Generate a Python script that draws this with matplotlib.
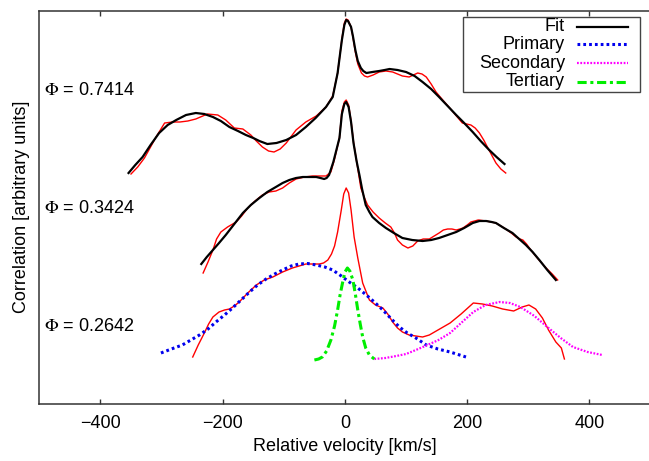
import numpy as np
import matplotlib
matplotlib.use("Agg")
import matplotlib.pyplot as plt
from matplotlib.patches import Rectangle

plt.rcParams['font.family'] = ['Liberation Sans', 'DejaVu Sans']
plt.rcParams['mathtext.fontset'] = 'stix'
plt.rcParams['font.size'] = 13

# phase labels and their vertical offsets
phases = ['0.7414', '0.3424', '0.2642']
phase_y = [314, 196, 78]

# phase 0.7414: observed correlation and fit
v_obs1 = [-350, -339, -328, -318, -309, -295, -282, -270, -257, -244, -225, -208, -195, -181, -167, -154, -145, -135,
          -125, -116, -106, -96, -80, -64, -47, -31, -20, -12, -8, -5, -1, 2, 5, 10, 13, 17, 21, 27, 32, 37, 46, 56,
          67, 78, 86, 94, 105, 112, 119, 126, 133, 141, 149, 160, 170, 181, 192, 199, 206, 213, 220, 227, 233, 240,
          247, 255, 263]
c_obs1 = [230, 237, 246, 257, 267, 281, 282, 282, 283, 285, 290, 289, 284, 276, 275, 269, 263, 257,
          253, 252, 255, 261, 274, 282, 288, 297, 308, 331, 350, 365, 381, 385, 384, 377, 367, 352, 340, 331, 328, 327,
          329, 332, 333, 332, 330, 328, 327, 329, 331, 330, 327, 320, 312, 304, 297, 289, 281, 280, 279, 276, 271, 264,
          257, 249, 241, 235, 231]
v_fit1 = [-354, -343, -331, -318, -304, -290, -276, -260, -244, -230, -216, -203, -189, -175, -162, -150, -140, -127,
          -112, -96, -80, -64, -48, -31, -20, -12, -8, -5, -1, 2, 5, 10, 13, 17, 21, 26, 30, 35, 45, 56, 65, 73, 86,
          100, 114, 127, 141, 154, 168, 182, 195, 209, 222, 236, 248, 261]
c_fit1 = [231, 239, 247, 259, 271, 279, 284, 289, 291, 290, 287, 283, 277, 273, 269, 266, 263, 260,
          261, 264, 269, 277, 286, 297, 307, 331, 350, 364, 379, 384, 383, 377, 368, 354, 343, 336, 333, 331, 332, 333,
          334, 335, 334, 332, 328, 322, 315, 307, 298, 289, 281, 272, 263, 254, 247, 240]

# phase 0.3424
v_obs2 = [-232, -224, -216, -210, -203, -192, -178, -169, -159, -147, -135, -124, -113, -102, -91, -80, -66, -53,
          -42, -31, -23, -17, -9, -5, -1, 2, 6, 10, 14, 19, 26, 32, 37, 46, 56, 66, 75, 81, 86, 94, 103, 111, 119,
          128, 138, 146, 154, 161, 168, 175, 182, 188, 193, 200, 206, 218, 231, 247, 263, 272, 280, 286, 291, 297,
          304, 316, 329, 339, 348]
c_obs2 = [131, 142, 154, 165, 172, 177, 182, 188, 196, 203, 209, 212, 213, 216, 221, 225, 227, 228,
          228, 228, 232, 245, 266, 293, 302, 304, 299, 283, 262, 243, 216, 206, 199, 192, 186, 181, 177, 171, 164, 159,
          156, 158, 163, 165, 165, 168, 171, 174, 175, 175, 174, 175, 176, 179, 182, 184, 183, 181, 175, 171, 167, 165,
          164, 160, 154, 145, 136, 130, 124]
v_fit2 = [-235, -226, -216, -206, -195, -181, -167, -154, -140, -127, -113, -102, -91, -80, -69, -58, -47, -40, -34,
          -30, -26, -19, -14, -9, -5, -1, 2, 6, 10, 14, 19, 24, 28, 34, 40, 45, 56, 67, 80, 94, 110, 127, 141, 154,
          168, 182, 195, 209, 220, 231, 240, 247, 260, 274, 285, 296, 307, 318, 331, 345]
c_fit2 = [140, 147, 154, 161, 169, 180, 191, 199, 206, 212, 217, 221, 224, 226, 227, 227, 227, 226, 225,
          226, 229, 242, 254, 266, 290, 300, 302, 297, 282, 261, 243, 228, 215, 199, 192, 187, 181, 176, 171, 166, 164,
          163, 164, 166, 169, 172, 176, 181, 183, 183, 182, 181, 176, 171, 165, 159, 152, 144, 134, 124]

# phase 0.2642: observed correlation and the three components
v_obs3 = [-249, -240, -230, -223, -216, -206, -197, -189, -181, -173, -159, -145, -132, -118, -102, -86, -75, -64,
          -53, -42, -35, -28, -22, -17, -12, -6, -2, 2, 6, 10, 15, 21, 29, 40, 50, 62, 70, 78, 86, 94, 105, 116, 127,
          138, 155, 172, 190, 210, 225, 241, 258, 276, 290, 301, 312, 323, 333, 345, 354, 359]
c_obs3 = [47, 59, 71, 80, 87, 92, 94, 95, 98, 102, 111, 119, 124, 127, 132, 136, 138, 140,
          140, 140, 141, 144, 150, 158, 172, 194, 210, 216, 211, 194, 167, 146, 121, 104, 99, 96, 90, 82, 76, 72, 69,
          68, 67, 69, 75, 81, 90, 101, 100, 98, 95, 93, 97, 99, 95, 86, 74, 62, 56, 45]
v_pri = [-301, -284, -266, -252, -238, -224, -211, -197, -184, -170, -156, -143, -129, -115, -102, -88, -75, -61,
         -47, -33, -20, -6, 7, 21, 35, 48, 62, 76, 89, 102, 116, 133, 152, 172, 198]
c_pri = [51, 55, 59, 64, 69, 75, 82, 89, 96, 104, 112, 119, 125, 130, 134, 138, 140, 140.5,
         139, 137, 134, 128, 122, 116, 109, 102, 94, 85, 77, 71, 66, 59, 55, 52, 47]
v_sec = [48, 66, 84, 100, 116, 135, 153, 172, 190, 210, 230, 253, 270, 287, 310, 333, 353, 373, 397, 421]
c_sec = [45, 46, 48, 50, 54, 59, 64, 71, 81, 92, 99, 102, 101, 97, 88, 76, 66, 57, 52, 49]
v_ter = [-50, -43, -37, -30, -23, -17, -12, -8, -4, 0, 4, 8, 13, 17, 21, 25, 29, 34, 40, 48]
c_ter = [44, 45, 47, 53, 64, 78, 94, 109, 121, 132, 136, 133, 124, 110, 94, 80, 67, 56, 49, 45]

fig = plt.figure(figsize=(6.49, 4.61), dpi=100)
ax = fig.add_axes([39.3 / 649, 57 / 461, 611.3 / 649, 393.3 / 461])

ax.plot(v_obs1, c_obs1, color='red', lw=1.0)
ax.plot(v_fit1, c_fit1, color='black', lw=1.6)
ax.plot(v_obs2, c_obs2, color='red', lw=1.0)
ax.plot(v_fit2, c_fit2, color='black', lw=1.6)
ax.plot(v_obs3, c_obs3, color='red', lw=1.0)

blue_style = dict(color='#0000ee', lw=2.2, ls=(0, (0.9, 1.0)))
mag_style = dict(color='#ff00ff', lw=1.6, ls=(0, (0.8, 0.7)))
green_style = dict(color='#00ee00', lw=2.2, ls=(0, (3, 1.2, 1, 1.2)))
ax.plot(v_pri, c_pri, **blue_style)
ax.plot(v_sec, c_sec, **mag_style)
ax.plot(v_ter, c_ter, **green_style)

for p, y in zip(phases, phase_y):
    ax.text(-492, y, r'$\Phi$ = ' + p, ha='left', va='center', fontsize=13)

ax.set_xlim(-500, 500)
ax.set_ylim(0, 393.3)
ax.set_xticks([-400, -200, 0, 200, 400])
ax.set_yticks([])
ax.tick_params(axis='x', direction='in', top=True, length=3.6, width=1, color='#333333', pad=8)
for s in ax.spines.values():
    s.set_color('#333333')
    s.set_linewidth(1.1)
ax.spines['right'].set_visible(False)
ax.set_xlabel('Relative velocity [km/s]', labelpad=4)
fig.text(21.5 / 649, 1 - 207 / 461, 'Correlation [arbitrary units]', rotation=90,
         ha='center', va='center', fontsize=13)

# gnuplot-like key, drawn by hand so the labels can be right aligned
ax.add_patch(Rectangle((0.6936, 0.7941), 0.9827 - 0.6936, 0.9848 - 0.7941, transform=ax.transAxes,
                       fill=False, ec='#444444', lw=1.0, zorder=5))
key_names = ['Fit', 'Primary', 'Secondary', 'Tertiary']
key_styles = [dict(color='black', lw=1.6), blue_style, mag_style, green_style]
key_y = [0.9593, 0.9146, 0.8663, 0.8195]
for name, st, y in zip(key_names, key_styles, key_y):
    ax.text(0.860, y, name, transform=ax.transAxes, ha='right', va='center', fontsize=13, zorder=6)
    ax.plot([0.880, 0.9635], [y, y], transform=ax.transAxes, zorder=6, **st)

fig.savefig('out.png', dpi=100)
